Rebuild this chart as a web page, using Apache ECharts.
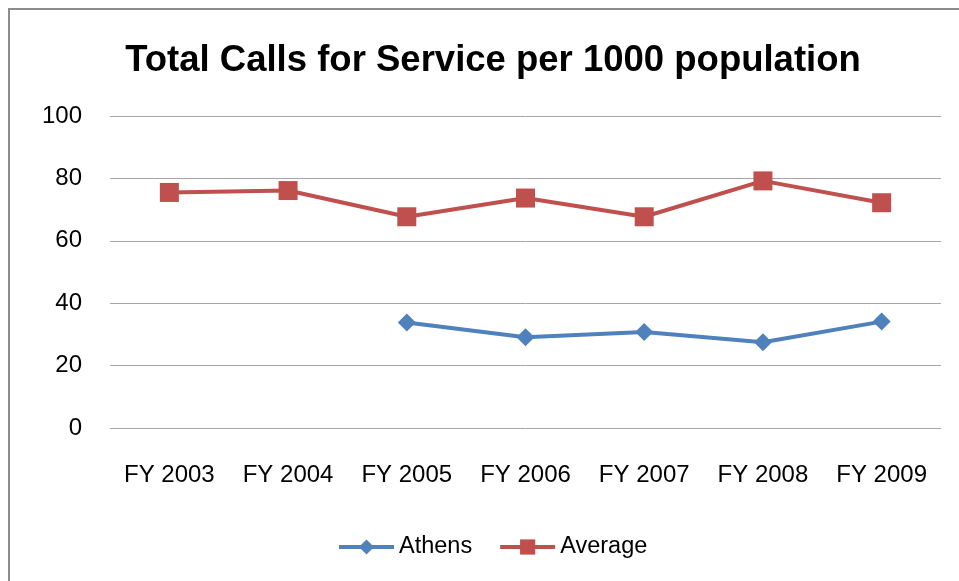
<!DOCTYPE html>
<html>
<head>
<meta charset="utf-8">
<script src="https://cdn.jsdelivr.net/npm/echarts@6/dist/echarts.min.js"></script>
<style>
html,body{margin:0;padding:0;background:#fff;}
#chart{width:959px;height:581px;}
</style>
</head>
<body>
<div id="chart"></div>
<script>
var titleText = 'Total Calls for Service per 1000 population';
var categories = ['FY 2003','FY 2004','FY 2005','FY 2006','FY 2007','FY 2008','FY 2009'];
var athens = [null, null, 33.8, 29.1, 30.8, 27.5, 34.1];
var average = [75.5, 76.1, 67.7, 73.7, 67.7, 79.2, 72.2];
var yTicks = [0, 20, 40, 60, 80, 100];

var font = '"Liberation Sans", Arial, sans-serif';
var chart = echarts.init(document.getElementById('chart'));
chart.setOption({
  animation: false,
  backgroundColor: '#fff',
  title: {
    text: titleText,
    left: 488, top: 37, textAlign: 'center',
    textStyle: {fontFamily: font, fontWeight: 'bold', fontSize: 36.5, color: '#000'}
  },
  graphic: [{
    type: 'rect', z: 100, silent: true,
    shape: {x: 9, y: 9, width: 1000, height: 1000},
    style: {fill: 'none', stroke: '#8c8c8c', lineWidth: 2}
  }],
  legend: {
    data: ['Athens', 'Average'],
    left: 332, top: 530,
    itemWidth: 55, itemHeight: 19, itemGap: 26,
    lineStyle: {width: 4},
    textStyle: {fontFamily: font, fontSize: 23.5, color: '#000'}
  },
  grid: {left: 110, right: 18, top: 116, bottom: 153},
  xAxis: {
    type: 'category',
    data: categories,
    boundaryGap: true,
    axisLine: {show: false},
    axisTick: {show: false},
    axisLabel: {fontFamily: font, fontSize: 24, color: '#000', margin: 35}
  },
  yAxis: {
    type: 'value',
    min: yTicks[0], max: yTicks[yTicks.length - 1], interval: 20,
    axisLine: {show: false},
    axisTick: {show: false},
    axisLabel: {fontFamily: font, fontSize: 24, color: '#000', margin: 28},
    splitLine: {lineStyle: {color: '#a6a6a6', width: 1}}
  },
  series: [{
    name: 'Athens', type: 'line', data: athens,
    symbol: 'diamond', symbolSize: 18,
    lineStyle: {color: '#4F81BD', width: 4},
    itemStyle: {color: '#4F81BD'}
  }, {
    name: 'Average', type: 'line', data: average,
    symbol: 'rect', symbolSize: 19,
    lineStyle: {color: '#C0504D', width: 4},
    itemStyle: {color: '#C0504D'}
  }]
});
</script>
</body>
</html>
